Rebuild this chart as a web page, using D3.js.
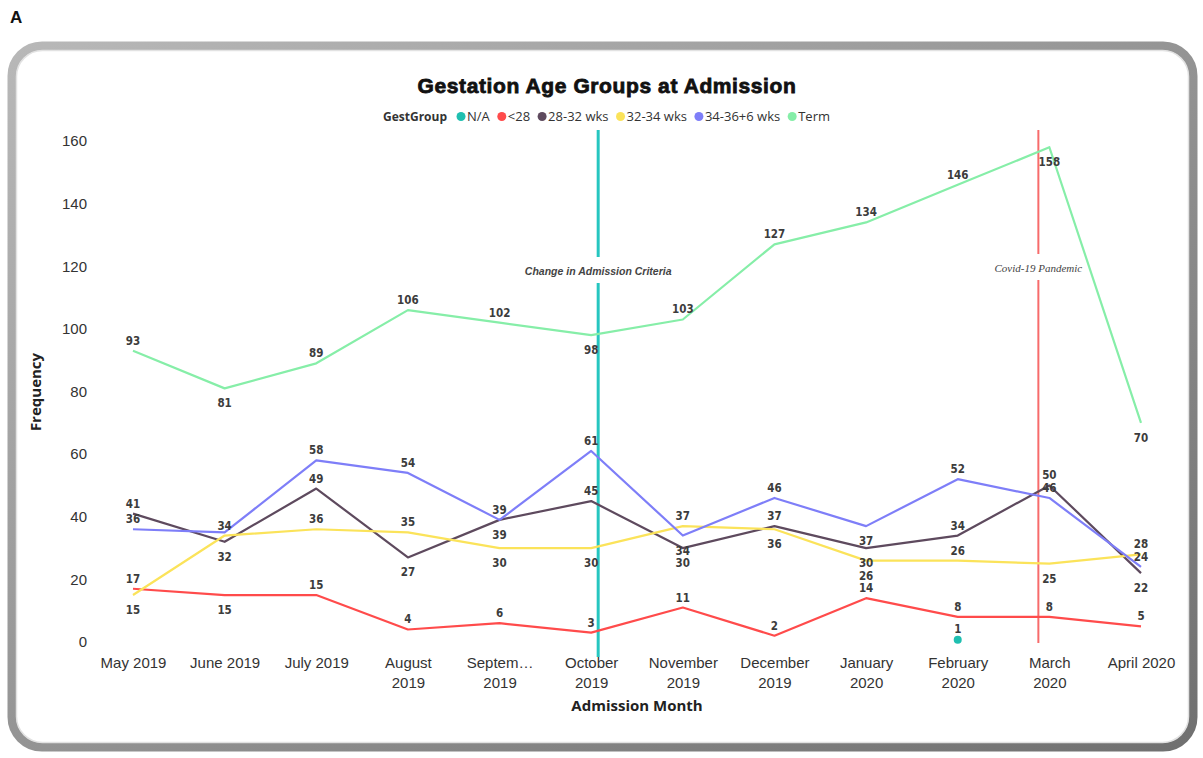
<!DOCTYPE html>
<html>
<head>
<meta charset="utf-8">
<script src="https://cdn.jsdelivr.net/npm/d3@7"></script>
<style>
  html, body { margin: 0; padding: 0; background: #ffffff; }
  svg { display: block; }
</style>
</head>
<body>
<svg id="chart" width="1203" height="758"></svg>
<script>
// ---------- DATA ----------
const months = ["May 2019","June 2019","July 2019","August 2019","September 2019","October 2019",
                "November 2019","December 2019","January 2020","February 2020","March 2020","April 2020"];
const tickLines = [["May 2019"],["June 2019"],["July 2019"],["August","2019"],["Septem…","2019"],
                   ["October","2019"],["November","2019"],["December","2019"],["January","2020"],
                   ["February","2020"],["March","2020"],["April 2020"]];
const yTicks = [0,20,40,60,80,100,120,140,160];

const groups = ["N/A","<28","28-32 wks","32-34 wks","34-36+6 wks","Term"];

const valNA     = [null,null,null,null,null,null,null,null,null,1,null,null];
const valLt28   = [17,15,15,4,6,3,11,2,14,8,8,5];
const val2832   = [41,32,49,27,39,45,30,37,30,34,50,22];
const val3234   = [15,34,36,35,30,30,37,36,26,26,25,28];
const val3436   = [36,35,58,54,39,61,34,46,37,52,46,24];
const valTerm   = [93,81,89,106,102,98,103,127,134,146,158,70];

// label placement (a = above, b = below, '' = hidden)
const sideNA    = ['','','','','','','','','','a','',''];
const sideLt28  = ['a','b','a','a','a','a','a','a','a','a','a','a'];
const side2832  = ['a','b','a','b','b','a','b','a','b','a','a','b'];
const side3234  = ['b','a','a','a','b','b','a','b','b','a','b','a'];
const side3436  = ['a','','a','a','a','a','b','a','b','a','a','a'];
const sideTerm  = ['a','b','a','a','a','b','a','a','a','a','b','b'];

const colors = ["#1fbfb0","#ff4b4b","#5e4a5e","#fbe35a","#7e7ef8","#86eea8"];

const seriesList = [
  {name: groups[0], values: valNA,   sides: sideNA,   color: colors[0]},
  {name: groups[1], values: valLt28, sides: sideLt28, color: colors[1]},
  {name: groups[2], values: val2832, sides: side2832, color: colors[2]},
  {name: groups[3], values: val3234, sides: side3234, color: colors[3]},
  {name: groups[4], values: val3436, sides: side3436, color: colors[4]},
  {name: groups[5], values: valTerm, sides: sideTerm, color: colors[5]}
];

const annotations = [
  {month: "October 2019", text: "Change in Admission Criteria", color: "#26c6c0", dx: 7, width: 3, bottom: 657, ty: 275, font: "bold italic 10.5px 'Liberation Sans', Arial, sans-serif"},
  {month: "March 2020", text: "Covid-19 Pandemic", color: "#f76b6b", dx: -11, width: 2, bottom: 643, ty: 272, font: "italic 11px 'Liberation Serif', 'Times New Roman', serif"}
];

// ---------- DRAW ----------
const svg = d3.select("#chart");

// panel label
svg.append("text").attr("x", 10).attr("y", 23)
  .style("font", "bold 17px 'Liberation Sans', Arial, sans-serif").attr("fill", "#111").text("A");

// card border
const defs = svg.append("defs");
const grad = defs.append("linearGradient").attr("id", "bord").attr("x1", "0").attr("y1", "0").attr("x2", "1").attr("y2", "1");
grad.append("stop").attr("offset", "0%").attr("stop-color", "#b8b8b8");
grad.append("stop").attr("offset", "100%").attr("stop-color", "#707070");
svg.append("rect").attr("x", 12).attr("y", 46).attr("width", 1181).attr("height", 701)
  .attr("rx", 30).attr("ry", 30).attr("fill", "#fff").attr("stroke", "url(#bord)").attr("stroke-width", 9);
svg.append("rect").attr("x", 16.5).attr("y", 50.5).attr("width", 1172).attr("height", 692)
  .attr("rx", 26).attr("ry", 26).attr("fill", "none").attr("stroke", "#e2e2e2").attr("stroke-width", 1.5);

// scales
const x = d3.scalePoint().domain(months).range([133, 1141]);
const y = d3.scaleLinear().domain([0, 160]).range([642, 141]);

// title
svg.append("text").attr("x", 607).attr("y", 93).attr("text-anchor", "middle")
  .style("font", "bold 21px 'Liberation Sans', Arial, sans-serif").attr("fill", "#111")
  .attr("stroke", "#111").attr("stroke-width", 0.8).attr("letter-spacing", 0.6)
  .text("Gestation Age Groups at Admission");

// legend
const legFont = "13px 'Open Sans', 'Noto Sans', sans-serif";
const leg = svg.append("g").attr("transform", "translate(0,121)");
const lt = leg.append("text").attr("x", 383).attr("y", 0)
  .style("font", "bold 12px 'Open Sans', 'Noto Sans', sans-serif").attr("fill", "#333").text("GestGroup");
let lx = 383 + lt.node().getComputedTextLength() + 14;
seriesList.forEach(s => {
  leg.append("circle").attr("cx", lx).attr("cy", -4.5).attr("r", 4.5).attr("fill", s.color);
  const t = leg.append("text").attr("x", lx + 6).attr("y", 0).style("font", legFont).attr("fill", "#333").text(s.name);
  lx += 6 + t.node().getComputedTextLength() + 12;
});

// y axis
const yAxis = d3.axisLeft(y).tickValues(yTicks).tickSize(0).tickPadding(0);
const yg = svg.append("g").attr("transform", "translate(87,0)").call(yAxis);
yg.select(".domain").remove();
yg.selectAll("text").style("font", "15px 'Liberation Sans', Arial, sans-serif").attr("fill", "#333");

svg.append("text").attr("transform", "translate(41,392) rotate(-90)").attr("text-anchor", "middle")
  .style("font", "bold 15px 'Open Sans', 'Noto Sans', sans-serif").attr("fill", "#222").text("Frequency");

// x axis
const xAxis = d3.axisBottom(x).tickSize(0).tickPadding(0).tickFormat(() => "");
const xg = svg.append("g").attr("transform", "translate(0,655)").call(xAxis);
xg.select(".domain").remove();
xg.selectAll(".tick").each(function(d, i) {
  const t = d3.select(this).select("text").attr("y", 0).attr("dy", null)
    .style("font", "15px 'Liberation Sans', Arial, sans-serif").attr("fill", "#333");
  tickLines[i].forEach((ln, k) => {
    t.append("tspan").attr("x", 0).attr("y", 13 + k * 20).text(ln);
  });
});

svg.append("text").attr("x", 637).attr("y", 711).attr("text-anchor", "middle")
  .style("font", "bold 15px 'Open Sans', 'Noto Sans', sans-serif").attr("fill", "#222").text("Admission Month");

// annotation lines
annotations.forEach(a => {
  const ax = x(a.month) + a.dx;
  svg.append("line").attr("x1", ax).attr("x2", ax).attr("y1", 130).attr("y2", a.bottom)
    .attr("stroke", a.color).attr("stroke-width", a.width);
});

// lines
const line = d3.line().defined(d => d.v != null).x(d => x(d.m)).y(d => y(d.v));
const plot = svg.append("g");
seriesList.forEach(s => {
  const pts = months.map((m, i) => ({m, v: s.values[i]}));
  const nonNull = pts.filter(p => p.v != null);
  if (nonNull.length > 1) {
    plot.append("path").datum(pts).attr("d", line).attr("fill", "none")
      .attr("stroke", s.color).attr("stroke-width", 2.2).attr("stroke-linejoin", "round");
  } else {
    nonNull.forEach(p => {
      plot.append("circle").attr("cx", x(p.m)).attr("cy", y(p.v) + 1).attr("r", 4).attr("fill", s.color);
    });
  }
});

// annotation labels (with white gap)
annotations.forEach(a => {
  const ax = x(a.month) + a.dx;
  const t = svg.append("text").attr("x", ax).attr("y", a.ty).attr("text-anchor", "middle")
    .style("font", a.font).attr("fill", "#444").text(a.text);
  const bb = t.node().getBBox();
  svg.insert("rect", () => t.node()).attr("x", ax - 3).attr("y", bb.y - 8).attr("width", 6).attr("height", bb.height + 14).attr("fill", "#fff");
});

// data labels
const lab = svg.append("g");
seriesList.forEach(s => {
  months.forEach((m, i) => {
    const v = s.values[i];
    const side = s.sides[i];
    if (v == null || !side) return;
    const py = y(v);
    lab.append("text").attr("x", x(m)).attr("y", side === 'a' ? py - 6 : py + 19)
      .attr("text-anchor", "middle")
      .style("font", "bold 11.5px 'DejaVu Sans Condensed', 'DejaVu Sans', sans-serif")
      .attr("fill", "#3c3c3c").text(v);
  });
});
</script>
</body>
</html>
